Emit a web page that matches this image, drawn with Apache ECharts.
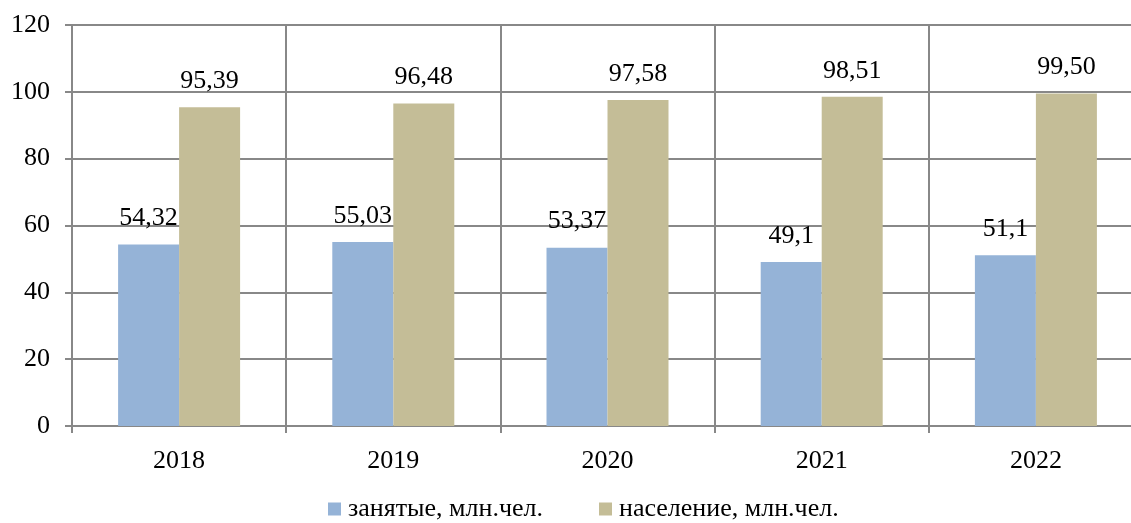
<!DOCTYPE html>
<html><head><meta charset="utf-8">
<script src="https://cdn.jsdelivr.net/npm/echarts@6/dist/echarts.min.js"></script>
<style>html,body{margin:0;padding:0;background:#fff;overflow:hidden}#c{width:1160px;height:523px}</style>
</head><body><div id="c"></div>
<script>
const categories = ['2018','2019','2020','2021','2022'];
const employed = [54.32, 55.03, 53.37, 49.1, 51.1];
const employedLabels = ['54,32','55,03','53,37','49,1','51,1'];
const population = [95.39, 96.48, 97.58, 98.51, 99.50];
const populationLabels = ['95,39','96,48','97,58','98,51','99,50'];
const seriesNames = ['занятые, млн.чел.', 'население, млн.чел.'];

const font = '"Liberation Serif", "Times New Roman", serif';
const chart = echarts.init(document.getElementById('c'));
chart.setOption({
  animation: false,
  grid: { left: 72, width: 1071, top: 25, height: 401, containLabel: false, outerBoundsMode: 'none' },
  legend: {
    top: 491, left: 323, itemWidth: 13, itemHeight: 13, itemGap: 56,
    icon: 'rect',
    textStyle: { fontFamily: font, fontSize: 26, color: '#000', padding: [0, 0, 0, 2] },
    data: seriesNames
  },
  xAxis: {
    type: 'category', data: categories,
    axisLine: { lineStyle: { color: '#888', width: 2 } },
    axisTick: { show: true, length: 7, lineStyle: { color: '#888', width: 2 } },
    splitLine: { show: true, lineStyle: { color: '#888', width: 2 } },
    axisLabel: { fontFamily: font, fontSize: 26, color: '#000', margin: 22 }
  },
  yAxis: {
    type: 'value', min: 0, max: 120, interval: 20,
    axisLine: { show: true, lineStyle: { color: '#888', width: 2 } },
    axisTick: { show: true, length: 7, lineStyle: { color: '#888', width: 2 } },
    splitLine: { show: true, lineStyle: { color: '#888', width: 2 } },
    axisLabel: { fontFamily: font, fontSize: 26, color: '#000', margin: 22 }
  },
  series: [
    {
      name: seriesNames[0], type: 'bar', data: employed, barWidth: 61, barGap: '0%',
      itemStyle: { color: '#95B3D7' },
      label: { show: true, position: 'top', distance: 13, fontFamily: font, fontSize: 26, color: '#000',
        formatter: p => employedLabels[p.dataIndex] }
    },
    {
      name: seriesNames[1], type: 'bar', data: population, barWidth: 61, barGap: '0%',
      itemStyle: { color: '#C4BD97' },
      label: { show: true, position: 'top', distance: 13, fontFamily: font, fontSize: 26, color: '#000',
        formatter: p => populationLabels[p.dataIndex] }
    }
  ]
});
</script></body></html>
